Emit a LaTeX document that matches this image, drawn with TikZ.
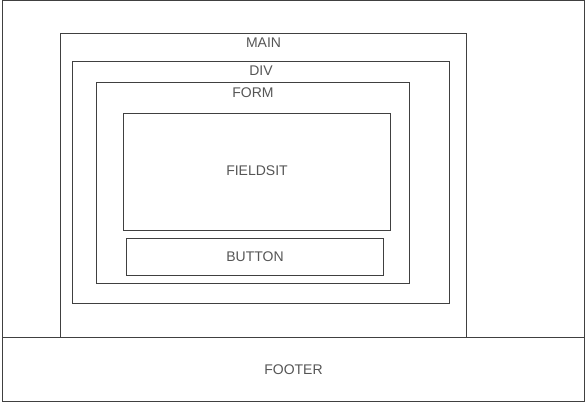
\documentclass[tikz,border=0pt]{standalone}
\usepackage{fontspec}
\setmainfont{Liberation Sans}
\definecolor{linegray}{HTML}{404040}
\definecolor{textgray}{HTML}{555555}
\begin{document}
\begin{tikzpicture}[x=1pt,y=-1pt]
        \tikzstyle{box}=[draw=linegray,line width=1pt,anchor=north west,inner sep=0pt]
        \tikzstyle{tag}=[text=textgray,inner sep=0pt,font=\fontsize{14}{16}\selectfont]
        \useasboundingbox (0,0) rectangle (588,401);
        % page parts
        \node [box,minimum width=582pt,minimum height=336.5pt] (body) at (2,0.5) {};
        \node [box,minimum width=582pt,minimum height=63.5pt] (footer) at (2,337) {};
        \node [box,minimum width=406pt,minimum height=303.5pt] (main) at (60,33.5) {};
        \node [box,minimum width=377pt,minimum height=241pt] (div) at (72,61.5) {};
        \node [box,minimum width=313pt,minimum height=200.5pt] (form) at (96,82.5) {};
        \node [box,minimum width=267pt,minimum height=117pt] (fieldset) at (123,112.5) {};
        \node [box,minimum width=257pt,minimum height=37.5pt] (button) at (126,237.5) {};

        % labels
        \node [tag] (mainlabel) at ([yshift=-9.5pt]main.north) {MAIN};
        \node [tag] (divlabel) at ([yshift=-9.5pt]div.north) {DIV};
        \node [tag] (formlabel) at ([yshift=-10.5pt]form.north) {FORM};
        \node [tag] (fieldsetlabel) at ([yshift=0.5pt]fieldset.center) {FIELDSIT};
        \node [tag] (buttonlabel) at (button.center) {BUTTON};
        \node [tag] (footerlabel) at (footer.center) {FOOTER};
\end{tikzpicture}
\end{document}
